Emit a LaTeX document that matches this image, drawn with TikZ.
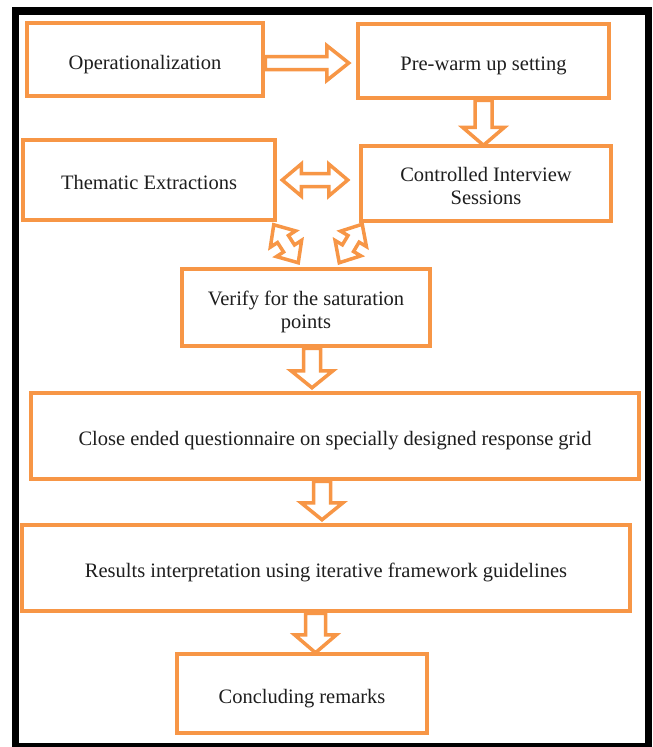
\documentclass[tikz,border=0pt]{standalone}
\usepackage{fontspec}
\setmainfont{Liberation Serif}
\usetikzlibrary{calc}
\definecolor{boxorange}{HTML}{F79646}
\definecolor{txt}{HTML}{1E1E1E}

\tikzset{
  stage/.style={draw=boxorange, line width=4.5pt, rectangle, inner sep=0pt,
    align=center, text=txt, font=\fontsize{20.5}{23}\selectfont},
  oneline/.style={text height=24pt, text depth=5pt},
  twoline/.style={text height=47.5pt, text depth=5pt},
  blockarrow/.style={draw=boxorange, line width=3.5pt, fill=white, line join=miter},
  outerframe/.style={draw=black, line width=7.5pt}
}

% hollow block arrow: {from}{to}{shaft half-width}{head half-width}{head length}
\newcommand\singleblock[5]{%
  \coordinate (sb-b) at ($(#2)!#5!(#1)$);
  \draw[blockarrow] ($(#1)!#3!90:(#2)$) -- ($(sb-b)!#3!90:(#2)$)
    -- ($(sb-b)!#4!90:(#2)$) -- (#2) -- ($(sb-b)!#4!-90:(#2)$)
    -- ($(sb-b)!#3!-90:(#2)$) -- ($(#1)!#3!-90:(#2)$) -- cycle;
}
% hollow two-headed block arrow, same arguments
\newcommand\doubleblock[5]{%
  \coordinate (db-a) at ($(#1)!#5!(#2)$);
  \coordinate (db-b) at ($(#2)!#5!(#1)$);
  \draw[blockarrow] (#1) -- ($(db-a)!#4!90:(#2)$) -- ($(db-a)!#3!90:(#2)$)
    -- ($(db-b)!#3!90:(#2)$) -- ($(db-b)!#4!90:(#2)$) -- (#2)
    -- ($(db-b)!#4!-90:(#2)$) -- ($(db-b)!#3!-90:(#2)$)
    -- ($(db-a)!#3!-90:(#2)$) -- ($(db-a)!#4!-90:(#2)$) -- cycle;
}

\begin{document}
\begin{tikzpicture}[x=1pt, y=-1pt]
  \useasboundingbox (0,0) rectangle (653,747);
  \fill[white] (0,0) rectangle (653,747);

  % process stages
  \node[stage, oneline, minimum width=236pt, minimum height=73pt] (op) at (145,59.5) {Operationalization};
  \node[stage, oneline, minimum width=251pt, minimum height=74pt] (pre) at (483.5,61) {Pre-warm up setting};
  \node[stage, oneline, minimum width=252pt, minimum height=80pt] (them) at (149,180) {Thematic Extractions};
  \node[stage, twoline, minimum width=250pt, minimum height=75pt] (ctrl) at (486,183.5) {Controlled Interview\\Sessions};
  \node[stage, twoline, minimum width=248pt, minimum height=77pt] (ver) at (306,307.5) {Verify for the saturation\\points};
  \node[stage, oneline, minimum width=608pt, minimum height=86pt] (close) at (335,436) {Close ended questionnaire on specially designed response grid};
  \node[stage, oneline, minimum width=608pt, minimum height=86pt] (res) at (326,568) {Results interpretation using iterative framework guidelines};
  \node[stage, oneline, minimum width=250pt, minimum height=79pt] (conc) at (302,693.5) {Concluding remarks};

  % arrow end points
  \coordinate (a1s) at ($(op.east)+(0,3.5)$);
  \coordinate (a1t) at ($(pre.west)+(-7,2)$);
  \coordinate (a2t) at ($(pre.south)+(0,45)$);
  \coordinate (a3s) at ($(them.east)+(5,0)$);
  \coordinate (a3t) at ($(ctrl.west)+(-11,-3.5)$);
  \coordinate (d1a) at ($(them.south east)+(-3.5,2.5)$);
  \coordinate (d1b) at ($(ver.north west)+(118.5,-4)$);
  \coordinate (d2a) at ($(ctrl.south west)+(3.5,1)$);
  \coordinate (d2b) at ($(ver.north west)+(159.5,-4)$);
  \coordinate (a4s) at ($(ver.south)+(6,0)$);
  \coordinate (a4t) at ($(close.north)+(-23,-3)$);
  \coordinate (a5s) at ($(close.south)+(-13,0)$);
  \coordinate (a5t) at ($(res.north)+(-4,-3)$);
  \coordinate (a6s) at ($(res.south)+(-10.5,0)$);
  \coordinate (a6t) at ($(conc.north)+(13.5,1)$);

  % connectors
  \singleblock{a1s}{a1t}{6.5pt}{17.5pt}{22pt}
  \singleblock{pre.south}{a2t}{8.5pt}{21pt}{18pt}
  \doubleblock{a3s}{a3t}{6.5pt}{16pt}{19pt}
  \doubleblock{d1a}{d1b}{6.5pt}{15pt}{17pt}
  \doubleblock{d2a}{d2b}{6.5pt}{15pt}{17pt}
  \singleblock{a4s}{a4t}{8.5pt}{21pt}{17pt}
  \singleblock{a5s}{a5t}{8.5pt}{21pt}{17pt}
  \singleblock{a6s}{a6t}{10pt}{21pt}{18pt}

  % page frame
  \draw[outerframe] (15.5,11) rectangle (648.5,746.5);
\end{tikzpicture}
\end{document}
